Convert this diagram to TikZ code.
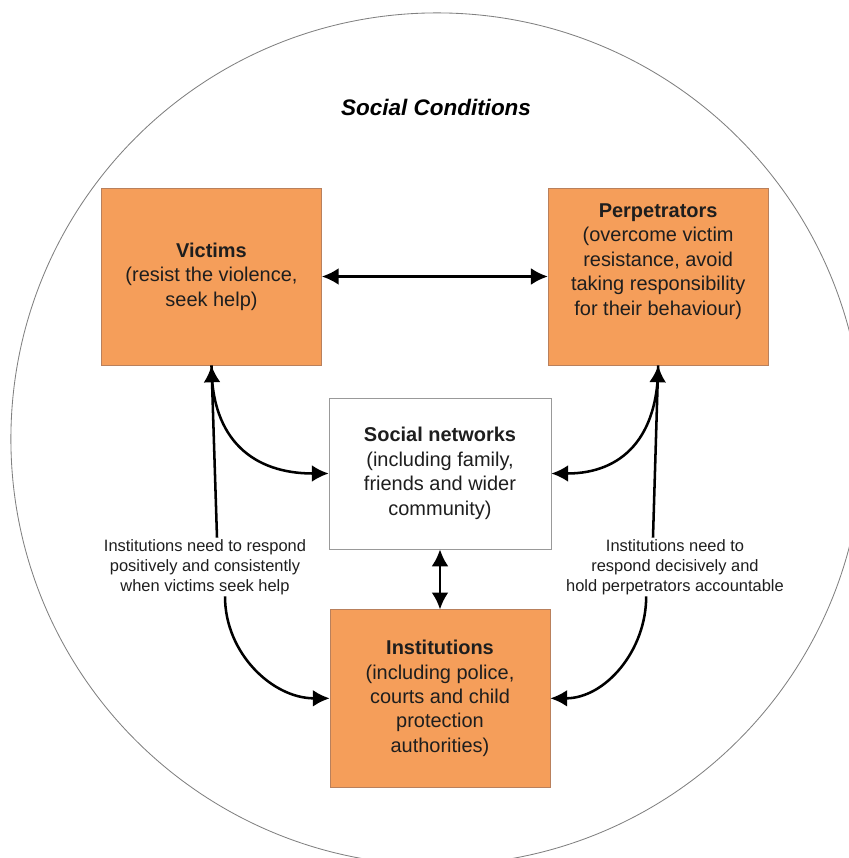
\documentclass[tikz,border=0pt]{standalone}
\usepackage{fontspec}
\setmainfont{Liberation Sans}
\usetikzlibrary{positioning, arrows.meta}

\definecolor{boxorange}{RGB}{245,158,90}
\definecolor{boxedge}{RGB}{185,128,92}
\definecolor{ringgray}{RGB}{128,128,128}
\definecolor{inkdark}{RGB}{30,30,30}

\begin{document}
\begin{tikzpicture}[x=0.025cm, y=-0.025cm,
    party/.style={draw=boxedge, fill=boxorange, text=inkdark, align=center,
                  minimum width=5.5cm, minimum height=4.43cm, inner sep=2pt,
                  font=\fontsize{14.2}{17.4}\selectfont},
    network/.style={party, draw=ringgray!80, fill=white,
                    minimum width=5.55cm, minimum height=3.78cm},
    note/.style={align=center, inner sep=1pt, text=inkdark,
                 font=\fontsize{11.7}{14.3}\selectfont}]

    \useasboundingbox (0,0) rectangle (849,858);
    \clip (0,0) rectangle (849,858);

    % Outer ring
    \draw[ringgray, line width=0.6pt] (437,439) circle[radius=10.65cm];
    \node[font=\fontsize{16}{19}\selectfont\bfseries\itshape] (title) at (436,107) {Social Conditions};

    % Add the boxes
    \node[party]                          (victims) at (211.5,276.5)
        {\textbf{Victims}\\(resist the violence,\\seek help)};
    \node[party, right=5.65cm of victims] (perp)
        {\textbf{Perpetrators}\\(overcome victim\\resistance, avoid\\taking responsibility\\for their behaviour)\\[0.25cm]};
    \node[network]                        (social)  at (440,473.5)
        {\textbf{Social networks}\\(including family,\\friends and wider\\community)};
    \node[party, below=1.5cm of social]   (inst)
        {\textbf{Institutions}\\(including police,\\courts and child\\protection\\authorities)};

    % Add the notes
    \node[note] (vnote) at (205,567) {Institutions need to respond\\positively and consistently\\when victims seek help};
    \node[note] (pnote) at (675,567) {Institutions need to\\respond decisively and\\hold perpetrators accountable};

    % Connect the boxes with arrows
    \draw[line width=1.8pt, >={Latex[length=12pt,width=12pt]}]
        (victims)                 edge[<->]                                (perp)
        (social.south)            edge[<->]                                (inst.north)
        (victims.south)           edge[->, out=-90, in=180, looseness=1.2] (social.west)
        (perp.south)              edge[->, out=-90, in=0, looseness=1.2]   (social.east)
        ([xshift=0.3cm]vnote.north)   edge[->]                             (victims.south)
        ([xshift=-0.55cm]pnote.north) edge[->]                             (perp.south)
        ([xshift=0.5cm]vnote.south)   edge[->, out=-90, in=180]            (inst.west)
        ([xshift=-0.72cm]pnote.south) edge[->, out=-90, in=0]              (inst.east);
\end{tikzpicture}
\end{document}
